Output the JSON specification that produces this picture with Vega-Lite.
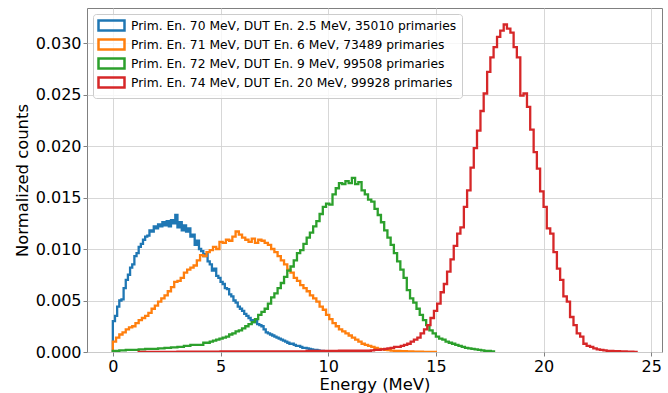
{
"$schema": "https://vega.github.io/schema/vega-lite/v6.json",
"width": 575, "height": 344,
"autosize": {"type": "none"},
"padding": {"left": 87, "top": 8, "right": 6, "bottom": 41},
"config": {
 "font": "DejaVu Sans",
 "view": {"stroke": "#808080", "strokeWidth": 1},
 "axis": {"labelFontSize": 16, "titleFontSize": 16.4, "titleFontWeight": "normal", "labelColor": "#000", "titleColor": "#000", "tickColor": "#808080", "tickSize": 4, "domain": false, "gridColor": "#d3d3d3", "gridWidth": 0.9, "labelFont": "DejaVu Sans", "titleFont": "DejaVu Sans"}
},
"datasets": {
 "series": [
  {"s": "A", "name": "Prim. En. 70 MeV, DUT En. 2.5 MeV, 35010 primaries"},
  {"s": "B", "name": "Prim. En. 71 MeV, DUT En. 6 MeV, 73489 primaries"},
  {"s": "C", "name": "Prim. En. 72 MeV, DUT En. 9 MeV, 99508 primaries"},
  {"s": "D", "name": "Prim. En. 74 MeV, DUT En. 20 MeV, 99928 primaries"}
 ],
 "hist": [
  {"s":"A","e":0,"v":0},{"s":"A","e":0,"v":0.0030},{"s":"A","e":0.1,"v":0.0035},{"s":"A","e":0.2,"v":0.0044},{"s":"A","e":0.3,"v":0.0050},{"s":"A","e":0.4,"v":0.0051},{"s":"A","e":0.5,"v":0.0062},{"s":"A","e":0.6,"v":0.0070},{"s":"A","e":0.7,"v":0.0075},{"s":"A","e":0.8,"v":0.0082},{"s":"A","e":0.9,"v":0.0085},
  {"s":"A","e":1.0,"v":0.0093},{"s":"A","e":1.1,"v":0.0096},{"s":"A","e":1.2,"v":0.0102},{"s":"A","e":1.3,"v":0.0105},{"s":"A","e":1.4,"v":0.0109},{"s":"A","e":1.5,"v":0.0112},{"s":"A","e":1.6,"v":0.0113},{"s":"A","e":1.7,"v":0.0118},{"s":"A","e":1.8,"v":0.0117},{"s":"A","e":1.9,"v":0.0122},
  {"s":"A","e":2.0,"v":0.0120},{"s":"A","e":2.1,"v":0.0124},{"s":"A","e":2.2,"v":0.0122},{"s":"A","e":2.3,"v":0.0126},{"s":"A","e":2.4,"v":0.0123},{"s":"A","e":2.5,"v":0.0127},{"s":"A","e":2.6,"v":0.0122},{"s":"A","e":2.7,"v":0.0128},{"s":"A","e":2.8,"v":0.0125},{"s":"A","e":2.9,"v":0.0133},
  {"s":"A","e":3.0,"v":0.0121},{"s":"A","e":3.1,"v":0.0126},{"s":"A","e":3.2,"v":0.0118},{"s":"A","e":3.3,"v":0.0123},{"s":"A","e":3.4,"v":0.0117},{"s":"A","e":3.5,"v":0.0120},{"s":"A","e":3.6,"v":0.0112},{"s":"A","e":3.7,"v":0.0114},{"s":"A","e":3.8,"v":0.0104},{"s":"A","e":3.9,"v":0.0108},
  {"s":"A","e":4.0,"v":0.0100},{"s":"A","e":4.1,"v":0.0098},{"s":"A","e":4.2,"v":0.0093},{"s":"A","e":4.3,"v":0.0095},{"s":"A","e":4.4,"v":0.0088},{"s":"A","e":4.5,"v":0.0085},{"s":"A","e":4.6,"v":0.0079},{"s":"A","e":4.7,"v":0.0081},{"s":"A","e":4.8,"v":0.0074},{"s":"A","e":4.9,"v":0.0072},
  {"s":"A","e":5.0,"v":0.0068},{"s":"A","e":5.1,"v":0.0066},{"s":"A","e":5.2,"v":0.0062},{"s":"A","e":5.3,"v":0.0061},{"s":"A","e":5.4,"v":0.0056},{"s":"A","e":5.5,"v":0.0054},{"s":"A","e":5.6,"v":0.0050},{"s":"A","e":5.7,"v":0.0048},{"s":"A","e":5.8,"v":0.0044},{"s":"A","e":5.9,"v":0.0042},
  {"s":"A","e":6.0,"v":0.0040},{"s":"A","e":6.1,"v":0.0037},{"s":"A","e":6.2,"v":0.0035},{"s":"A","e":6.3,"v":0.0033},{"s":"A","e":6.4,"v":0.0031},{"s":"A","e":6.5,"v":0.0029},{"s":"A","e":6.6,"v":0.0030},{"s":"A","e":6.7,"v":0.0027},{"s":"A","e":6.8,"v":0.0026},{"s":"A","e":6.9,"v":0.0025},
  {"s":"A","e":7.0,"v":0.0022},{"s":"A","e":7.1,"v":0.0019},{"s":"A","e":7.2,"v":0.0018},{"s":"A","e":7.3,"v":0.0017},{"s":"A","e":7.4,"v":0.0016},{"s":"A","e":7.5,"v":0.0015},{"s":"A","e":7.6,"v":0.0014},{"s":"A","e":7.7,"v":0.0013},{"s":"A","e":7.8,"v":0.0012},{"s":"A","e":7.9,"v":0.0011},
  {"s":"A","e":8.0,"v":0.0010},{"s":"A","e":8.1,"v":0.0009},{"s":"A","e":8.2,"v":0.0008},{"s":"A","e":8.3,"v":0.0008},{"s":"A","e":8.4,"v":0.0007},{"s":"A","e":8.5,"v":0.0006},{"s":"A","e":8.6,"v":0.0006},{"s":"A","e":8.7,"v":0.0005},{"s":"A","e":8.8,"v":0.0004},{"s":"A","e":8.9,"v":0.0004},
  {"s":"A","e":9.0,"v":0.00035},{"s":"A","e":9.1,"v":0.0003},{"s":"A","e":9.2,"v":0.00025},{"s":"A","e":9.3,"v":0.0002},{"s":"A","e":9.4,"v":0.0002},{"s":"A","e":9.5,"v":0.00015},{"s":"A","e":9.6,"v":0.0001},{"s":"A","e":9.7,"v":0.0001},{"s":"A","e":9.8,"v":0.00008},{"s":"A","e":9.9,"v":0.00005},{"s":"A","e":10.0,"v":0.00005},{"s":"A","e":10.1,"v":0},

  {"s":"B","e":0,"v":0},{"s":"B","e":0,"v":0.0010},{"s":"B","e":0.15,"v":0.0014},{"s":"B","e":0.3,"v":0.0017},{"s":"B","e":0.45,"v":0.0019},{"s":"B","e":0.6,"v":0.0022},{"s":"B","e":0.75,"v":0.0024},{"s":"B","e":0.9,"v":0.0025},{"s":"B","e":1.05,"v":0.0028},{"s":"B","e":1.2,"v":0.0031},{"s":"B","e":1.35,"v":0.0033},
  {"s":"B","e":1.5,"v":0.0035},{"s":"B","e":1.65,"v":0.0038},{"s":"B","e":1.8,"v":0.0042},{"s":"B","e":1.95,"v":0.0045},{"s":"B","e":2.1,"v":0.0049},{"s":"B","e":2.25,"v":0.0052},{"s":"B","e":2.4,"v":0.0055},{"s":"B","e":2.55,"v":0.0059},{"s":"B","e":2.7,"v":0.0063},{"s":"B","e":2.85,"v":0.0068},
  {"s":"B","e":3.0,"v":0.0069},{"s":"B","e":3.15,"v":0.0072},{"s":"B","e":3.3,"v":0.0077},{"s":"B","e":3.45,"v":0.0080},{"s":"B","e":3.6,"v":0.0082},{"s":"B","e":3.75,"v":0.0084},{"s":"B","e":3.9,"v":0.0089},{"s":"B","e":4.05,"v":0.0094},{"s":"B","e":4.2,"v":0.0093},{"s":"B","e":4.35,"v":0.0097},
  {"s":"B","e":4.5,"v":0.0099},{"s":"B","e":4.65,"v":0.0102},{"s":"B","e":4.8,"v":0.0100},{"s":"B","e":4.95,"v":0.0107},{"s":"B","e":5.1,"v":0.0106},{"s":"B","e":5.25,"v":0.0109},{"s":"B","e":5.4,"v":0.0108},{"s":"B","e":5.55,"v":0.0112},{"s":"B","e":5.7,"v":0.0117},{"s":"B","e":5.85,"v":0.0114},
  {"s":"B","e":6.0,"v":0.0111},{"s":"B","e":6.15,"v":0.0109},{"s":"B","e":6.3,"v":0.0107},{"s":"B","e":6.45,"v":0.0110},{"s":"B","e":6.6,"v":0.0106},{"s":"B","e":6.75,"v":0.0109},{"s":"B","e":6.9,"v":0.0108},{"s":"B","e":7.05,"v":0.0106},{"s":"B","e":7.2,"v":0.0104},{"s":"B","e":7.35,"v":0.0100},
  {"s":"B","e":7.5,"v":0.0097},{"s":"B","e":7.65,"v":0.0093},{"s":"B","e":7.8,"v":0.0089},{"s":"B","e":7.95,"v":0.0085},{"s":"B","e":8.1,"v":0.0080},{"s":"B","e":8.25,"v":0.0077},{"s":"B","e":8.4,"v":0.0072},{"s":"B","e":8.55,"v":0.0069},{"s":"B","e":8.7,"v":0.0065},{"s":"B","e":8.85,"v":0.0062},
  {"s":"B","e":9.0,"v":0.0059},{"s":"B","e":9.15,"v":0.0055},{"s":"B","e":9.3,"v":0.0052},{"s":"B","e":9.45,"v":0.0049},{"s":"B","e":9.6,"v":0.0044},{"s":"B","e":9.75,"v":0.0041},{"s":"B","e":9.9,"v":0.0036},{"s":"B","e":10.05,"v":0.0032},{"s":"B","e":10.2,"v":0.0028},{"s":"B","e":10.35,"v":0.0025},
  {"s":"B","e":10.5,"v":0.0022},{"s":"B","e":10.65,"v":0.0020},{"s":"B","e":10.8,"v":0.0018},{"s":"B","e":10.95,"v":0.0016},{"s":"B","e":11.1,"v":0.0014},{"s":"B","e":11.25,"v":0.0012},{"s":"B","e":11.4,"v":0.0010},{"s":"B","e":11.55,"v":0.0008},{"s":"B","e":11.7,"v":0.0007},{"s":"B","e":11.85,"v":0.0006},
  {"s":"B","e":12.0,"v":0.0005},{"s":"B","e":12.15,"v":0.0004},{"s":"B","e":12.3,"v":0.0003},{"s":"B","e":12.45,"v":0.00028},{"s":"B","e":12.6,"v":0.00022},{"s":"B","e":12.75,"v":0.00018},{"s":"B","e":12.9,"v":0.00014},{"s":"B","e":13.05,"v":0.0001},{"s":"B","e":13.35,"v":0.00008},{"s":"B","e":13.65,"v":0.00005},{"s":"B","e":13.95,"v":0.00003},{"s":"B","e":14.4,"v":0.00002},{"s":"B","e":14.7,"v":0.00001},{"s":"B","e":15.0,"v":0},

  {"s":"C","e":0,"v":0},{"s":"C","e":0,"v":0.0001},{"s":"C","e":0.3,"v":0.00015},{"s":"C","e":0.6,"v":0.0002},{"s":"C","e":0.9,"v":0.0002},{"s":"C","e":1.2,"v":0.00025},{"s":"C","e":1.5,"v":0.0003},{"s":"C","e":1.8,"v":0.0003},{"s":"C","e":2.1,"v":0.00035},{"s":"C","e":2.4,"v":0.0004},{"s":"C","e":2.7,"v":0.00045},
  {"s":"C","e":3.0,"v":0.0005},{"s":"C","e":3.3,"v":0.0006},{"s":"C","e":3.6,"v":0.0007},{"s":"C","e":3.9,"v":0.0007},{"s":"C","e":4.2,"v":0.0009},{"s":"C","e":4.5,"v":0.0010},{"s":"C","e":4.65,"v":0.0011},{"s":"C","e":4.8,"v":0.0012},{"s":"C","e":4.95,"v":0.0013},{"s":"C","e":5.1,"v":0.0014},
  {"s":"C","e":5.25,"v":0.0015},{"s":"C","e":5.4,"v":0.0017},{"s":"C","e":5.55,"v":0.0018},{"s":"C","e":5.7,"v":0.0020},{"s":"C","e":5.85,"v":0.0021},{"s":"C","e":6.0,"v":0.0023},{"s":"C","e":6.15,"v":0.0025},{"s":"C","e":6.3,"v":0.0027},{"s":"C","e":6.45,"v":0.0029},{"s":"C","e":6.6,"v":0.0032},
  {"s":"C","e":6.75,"v":0.0036},{"s":"C","e":6.9,"v":0.0039},{"s":"C","e":7.05,"v":0.0042},{"s":"C","e":7.2,"v":0.0047},{"s":"C","e":7.35,"v":0.0053},{"s":"C","e":7.5,"v":0.0057},{"s":"C","e":7.65,"v":0.0062},{"s":"C","e":7.8,"v":0.0067},{"s":"C","e":7.95,"v":0.0073},{"s":"C","e":8.1,"v":0.0079},
  {"s":"C","e":8.25,"v":0.0083},{"s":"C","e":8.4,"v":0.0089},{"s":"C","e":8.55,"v":0.0096},{"s":"C","e":8.7,"v":0.0099},{"s":"C","e":8.85,"v":0.0105},{"s":"C","e":9.0,"v":0.0111},{"s":"C","e":9.15,"v":0.0116},{"s":"C","e":9.3,"v":0.0122},{"s":"C","e":9.45,"v":0.0127},{"s":"C","e":9.6,"v":0.0134},
  {"s":"C","e":9.75,"v":0.0141},{"s":"C","e":9.9,"v":0.0144},{"s":"C","e":10.05,"v":0.0143},{"s":"C","e":10.2,"v":0.0153},{"s":"C","e":10.35,"v":0.0159},{"s":"C","e":10.5,"v":0.0164},{"s":"C","e":10.65,"v":0.0163},{"s":"C","e":10.8,"v":0.0166},{"s":"C","e":10.95,"v":0.0164},{"s":"C","e":11.1,"v":0.0169},
  {"s":"C","e":11.25,"v":0.0163},{"s":"C","e":11.4,"v":0.0165},{"s":"C","e":11.55,"v":0.0157},{"s":"C","e":11.7,"v":0.0153},{"s":"C","e":11.85,"v":0.0148},{"s":"C","e":12.0,"v":0.0146},{"s":"C","e":12.15,"v":0.0139},{"s":"C","e":12.3,"v":0.0133},{"s":"C","e":12.45,"v":0.0126},{"s":"C","e":12.6,"v":0.0118},
  {"s":"C","e":12.75,"v":0.0111},{"s":"C","e":12.9,"v":0.0104},{"s":"C","e":13.05,"v":0.0096},{"s":"C","e":13.2,"v":0.0088},{"s":"C","e":13.35,"v":0.0080},{"s":"C","e":13.5,"v":0.0072},{"s":"C","e":13.65,"v":0.0060},{"s":"C","e":13.8,"v":0.0052},{"s":"C","e":13.95,"v":0.0048},{"s":"C","e":14.1,"v":0.0042},
  {"s":"C","e":14.25,"v":0.0036},{"s":"C","e":14.4,"v":0.0031},{"s":"C","e":14.55,"v":0.0026},{"s":"C","e":14.7,"v":0.0021},{"s":"C","e":14.85,"v":0.0018},{"s":"C","e":15.0,"v":0.0015},{"s":"C","e":15.15,"v":0.0013},{"s":"C","e":15.3,"v":0.0012},{"s":"C","e":15.45,"v":0.0010},{"s":"C","e":15.6,"v":0.0009},
  {"s":"C","e":15.75,"v":0.0008},{"s":"C","e":15.9,"v":0.0007},{"s":"C","e":16.05,"v":0.0006},{"s":"C","e":16.2,"v":0.0005},{"s":"C","e":16.35,"v":0.0004},{"s":"C","e":16.5,"v":0.00035},{"s":"C","e":16.65,"v":0.0003},{"s":"C","e":16.8,"v":0.00025},{"s":"C","e":16.95,"v":0.0002},{"s":"C","e":17.1,"v":0.00015},
  {"s":"C","e":17.25,"v":0.0001},{"s":"C","e":17.4,"v":0.0001},{"s":"C","e":17.55,"v":0.00005},{"s":"C","e":17.7,"v":0},

  {"s":"D","e":1.2,"v":0},{"s":"D","e":1.2,"v":0.00002},{"s":"D","e":3.0,"v":0.00003},{"s":"D","e":5.0,"v":0.00005},{"s":"D","e":7.0,"v":0.00007},{"s":"D","e":9.0,"v":0.0001},{"s":"D","e":10.5,"v":0.00012},
  {"s":"D","e":11.98,"v":0.00015},{"s":"D","e":12.13,"v":0.0002},{"s":"D","e":12.29,"v":0.0002},{"s":"D","e":12.44,"v":0.00025},{"s":"D","e":12.6,"v":0.0003},{"s":"D","e":12.75,"v":0.00035},{"s":"D","e":12.9,"v":0.0004},{"s":"D","e":13.06,"v":0.0005},{"s":"D","e":13.21,"v":0.0005},{"s":"D","e":13.37,"v":0.0006},
  {"s":"D","e":13.52,"v":0.0007},{"s":"D","e":13.67,"v":0.0008},{"s":"D","e":13.83,"v":0.0010},{"s":"D","e":13.98,"v":0.0012},{"s":"D","e":14.14,"v":0.0014},{"s":"D","e":14.29,"v":0.0018},{"s":"D","e":14.45,"v":0.0022},{"s":"D","e":14.6,"v":0.0026},{"s":"D","e":14.75,"v":0.0033},{"s":"D","e":14.91,"v":0.0040},
  {"s":"D","e":15.06,"v":0.0047},{"s":"D","e":15.22,"v":0.0058},{"s":"D","e":15.37,"v":0.0066},{"s":"D","e":15.52,"v":0.0078},{"s":"D","e":15.68,"v":0.0090},{"s":"D","e":15.83,"v":0.0103},{"s":"D","e":15.99,"v":0.0115},{"s":"D","e":16.14,"v":0.0121},{"s":"D","e":16.3,"v":0.0141},{"s":"D","e":16.45,"v":0.0157},
  {"s":"D","e":16.61,"v":0.0179},{"s":"D","e":16.76,"v":0.0198},{"s":"D","e":16.91,"v":0.0215},{"s":"D","e":17.07,"v":0.0234},{"s":"D","e":17.22,"v":0.0251},{"s":"D","e":17.38,"v":0.0272},{"s":"D","e":17.53,"v":0.0286},{"s":"D","e":17.68,"v":0.0296},{"s":"D","e":17.84,"v":0.0306},{"s":"D","e":17.99,"v":0.0312},
  {"s":"D","e":18.15,"v":0.0318},{"s":"D","e":18.3,"v":0.0314},{"s":"D","e":18.46,"v":0.0310},{"s":"D","e":18.61,"v":0.0296},{"s":"D","e":18.76,"v":0.0286},{"s":"D","e":18.92,"v":0.0249},{"s":"D","e":19.07,"v":0.0251},{"s":"D","e":19.23,"v":0.0238},{"s":"D","e":19.38,"v":0.0216},{"s":"D","e":19.54,"v":0.0194},
  {"s":"D","e":19.69,"v":0.0178},{"s":"D","e":19.84,"v":0.0156},{"s":"D","e":20.0,"v":0.0141},{"s":"D","e":20.15,"v":0.0120},{"s":"D","e":20.31,"v":0.0115},{"s":"D","e":20.46,"v":0.0097},{"s":"D","e":20.62,"v":0.0081},{"s":"D","e":20.77,"v":0.0070},{"s":"D","e":20.92,"v":0.0054},{"s":"D","e":21.08,"v":0.0049},
  {"s":"D","e":21.23,"v":0.0034},{"s":"D","e":21.39,"v":0.0026},{"s":"D","e":21.54,"v":0.0018},{"s":"D","e":21.7,"v":0.0015},{"s":"D","e":21.85,"v":0.0008},{"s":"D","e":22.0,"v":0.0006},{"s":"D","e":22.16,"v":0.0005},{"s":"D","e":22.31,"v":0.00035},{"s":"D","e":22.47,"v":0.00025},{"s":"D","e":22.62,"v":0.0002},
  {"s":"D","e":22.78,"v":0.00015},{"s":"D","e":22.93,"v":0.0001},{"s":"D","e":23.24,"v":0.00008},{"s":"D","e":23.55,"v":0.00005},{"s":"D","e":23.86,"v":0.00003},{"s":"D","e":24.17,"v":0.00002},{"s":"D","e":24.32,"v":0}
 ]
},
"data": {"name": "hist"},
"transform": [{"lookup": "s", "from": {"data": {"name": "series"}, "key": "s", "fields": ["name"]}}],
"mark": {"type": "line", "interpolate": "step-after", "strokeWidth": 2.3, "clip": true},
"encoding": {
 "x": {"field": "e", "type": "quantitative", "scale": {"domain": [-1.2, 25.5], "nice": false, "zero": false},
  "axis": {"values": [0, 5, 10, 15, 20, 25], "title": "Energy (MeV)", "labelPadding": 2, "titlePadding": 2}},
 "y": {"field": "v", "type": "quantitative", "scale": {"domain": [0, 0.0334], "nice": false},
  "axis": {"values": [0, 0.005, 0.01, 0.015, 0.02, 0.025, 0.03], "format": ".3f", "title": "Normalized counts", "labelPadding": 2, "titlePadding": 5}},
 "color": {"field": "name", "type": "nominal",
  "scale": {"domain": ["Prim. En. 70 MeV, DUT En. 2.5 MeV, 35010 primaries", "Prim. En. 71 MeV, DUT En. 6 MeV, 73489 primaries", "Prim. En. 72 MeV, DUT En. 9 MeV, 99508 primaries", "Prim. En. 74 MeV, DUT En. 20 MeV, 99928 primaries"], "range": ["#1f77b4", "#ff7f0e", "#2ca02c", "#d62728"]},
  "legend": {"title": null, "orient": "top-left", "offset": 6, "padding": 5, "fillColor": "rgba(255,255,255,0.8)", "strokeColor": "#cccccc", "cornerRadius": 3, "labelFontSize": 12.3, "labelFont": "DejaVu Sans", "labelColor": "#000", "labelLimit": 500, "symbolType": "M-2.6,-1H2.6V1H-2.6Z", "symbolSize": 100, "symbolStrokeWidth": 2.5, "symbolFillColor": "transparent", "symbolOffset": 7, "labelOffset": 13, "rowPadding": -2}},
 "order": {"value": null}
}
}
